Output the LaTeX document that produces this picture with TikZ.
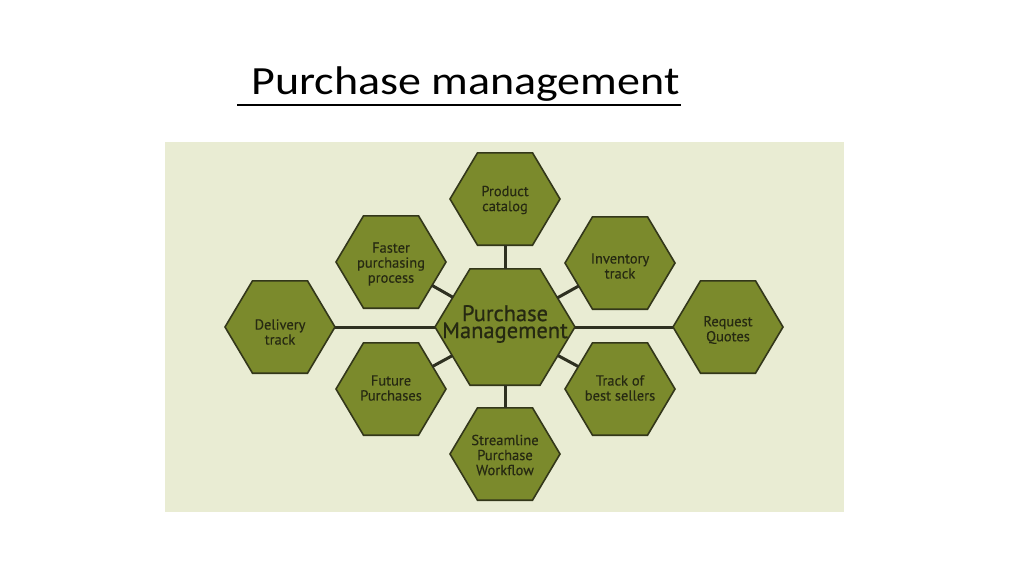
\documentclass[tikz,border=0pt]{standalone}
\usepackage{fontspec}
\setmainfont{PT Sans}
\newfontfamily\titlefont{Carlito}
\newfontfamily\semifont[FakeBold=0.8]{PT Sans}
\newfontfamily\smallfont[FakeBold=0.25]{PT Sans}
\usetikzlibrary{shapes.geometric}
\definecolor{panel}{HTML}{E9ECD3}
\definecolor{hexfill}{HTML}{7B8A2C}
\definecolor{hexline}{HTML}{33371A}
\definecolor{hextext}{HTML}{262912}
\definecolor{connline}{HTML}{2E3020}
\tikzset{
  hexsmall/.style={regular polygon, regular polygon sides=6, minimum size=110pt, inner sep=0pt, outer sep=0pt, fill=hexfill, draw=hexline, line width=1.6pt, yscale=0.97},
  hexbig/.style={regular polygon, regular polygon sides=6, minimum size=140pt, inner sep=0pt, outer sep=0pt, fill=hexfill, draw=hexline, line width=1.6pt, yscale=0.96},
  hextxt/.style={text=hextext, align=center, font=\smallfont\fontsize{14.5}{15}\selectfont, inner sep=0pt},
  bigtxt/.style={text=hextext, align=center, font=\semifont\fontsize{22.5}{16}\selectfont, inner sep=0pt},
  conn/.style={draw=connline, line width=3pt}
}
\begin{document}
\begin{tikzpicture}[x=1pt,y=-1pt]
\useasboundingbox (0,0) rectangle (1024,576);
\fill[white] (0,0) rectangle (1024,576);
\fill[panel] (165,142) rectangle (844,512);
% title
\node[anchor=base west, inner sep=0pt, font=\titlefont\fontsize{40}{40}\selectfont, xscale=1.15] (title) at (251,94) {Purchase management};
\coordinate (ulA) at (237,105);
\coordinate (ulB) at (681,105);
\draw[line width=2pt] (ulA) -- (ulB);
% hexagons
\node[hexbig] (c) at (505,327) {};
\node[hexsmall] (pc) at (505,199) {};
\node[hexsmall] (fp) at (391,262) {};
\node[hexsmall] (it) at (620,263) {};
\node[hexsmall] (dt) at (280,327) {};
\node[hexsmall] (rq) at (728,327) {};
\node[hexsmall] (fu) at (391,389) {};
\node[hexsmall] (tb) at (620,389) {};
\node[hexsmall] (sw) at (505,454) {};
% connectors
\draw[conn] (c) -- (pc);
\draw[conn] (c) -- (fp);
\draw[conn] (c) -- (it);
\draw[conn] (c) -- (dt);
\draw[conn] (c) -- (rq);
\draw[conn] (c) -- (fu);
\draw[conn] (c) -- (tb);
\draw[conn] (c) -- (sw);
% texts
\node[bigtxt] (ct) at (505,324) {Purchase\\Management};
\node[hextxt] (pct) at (505,200) {Product\\catalog};
\node[hextxt] (fpt) at (391,264) {Faster\\purchasing\\process};
\node[hextxt] (itt) at (620,266) {Inventory\\track};
\node[hextxt] (dtt) at (280,332) {Delivery\\track};
\node[hextxt] (rqt) at (728,330) {Request\\Quotes};
\node[hextxt] (fut) at (391,388) {Future\\Purchases};
\node[hextxt] (tbt) at (620,388) {Track of\\best sellers};
\node[hextxt] (swt) at (505,455) {Streamline\\Purchase\\Workflow};
\end{tikzpicture}
\end{document}
